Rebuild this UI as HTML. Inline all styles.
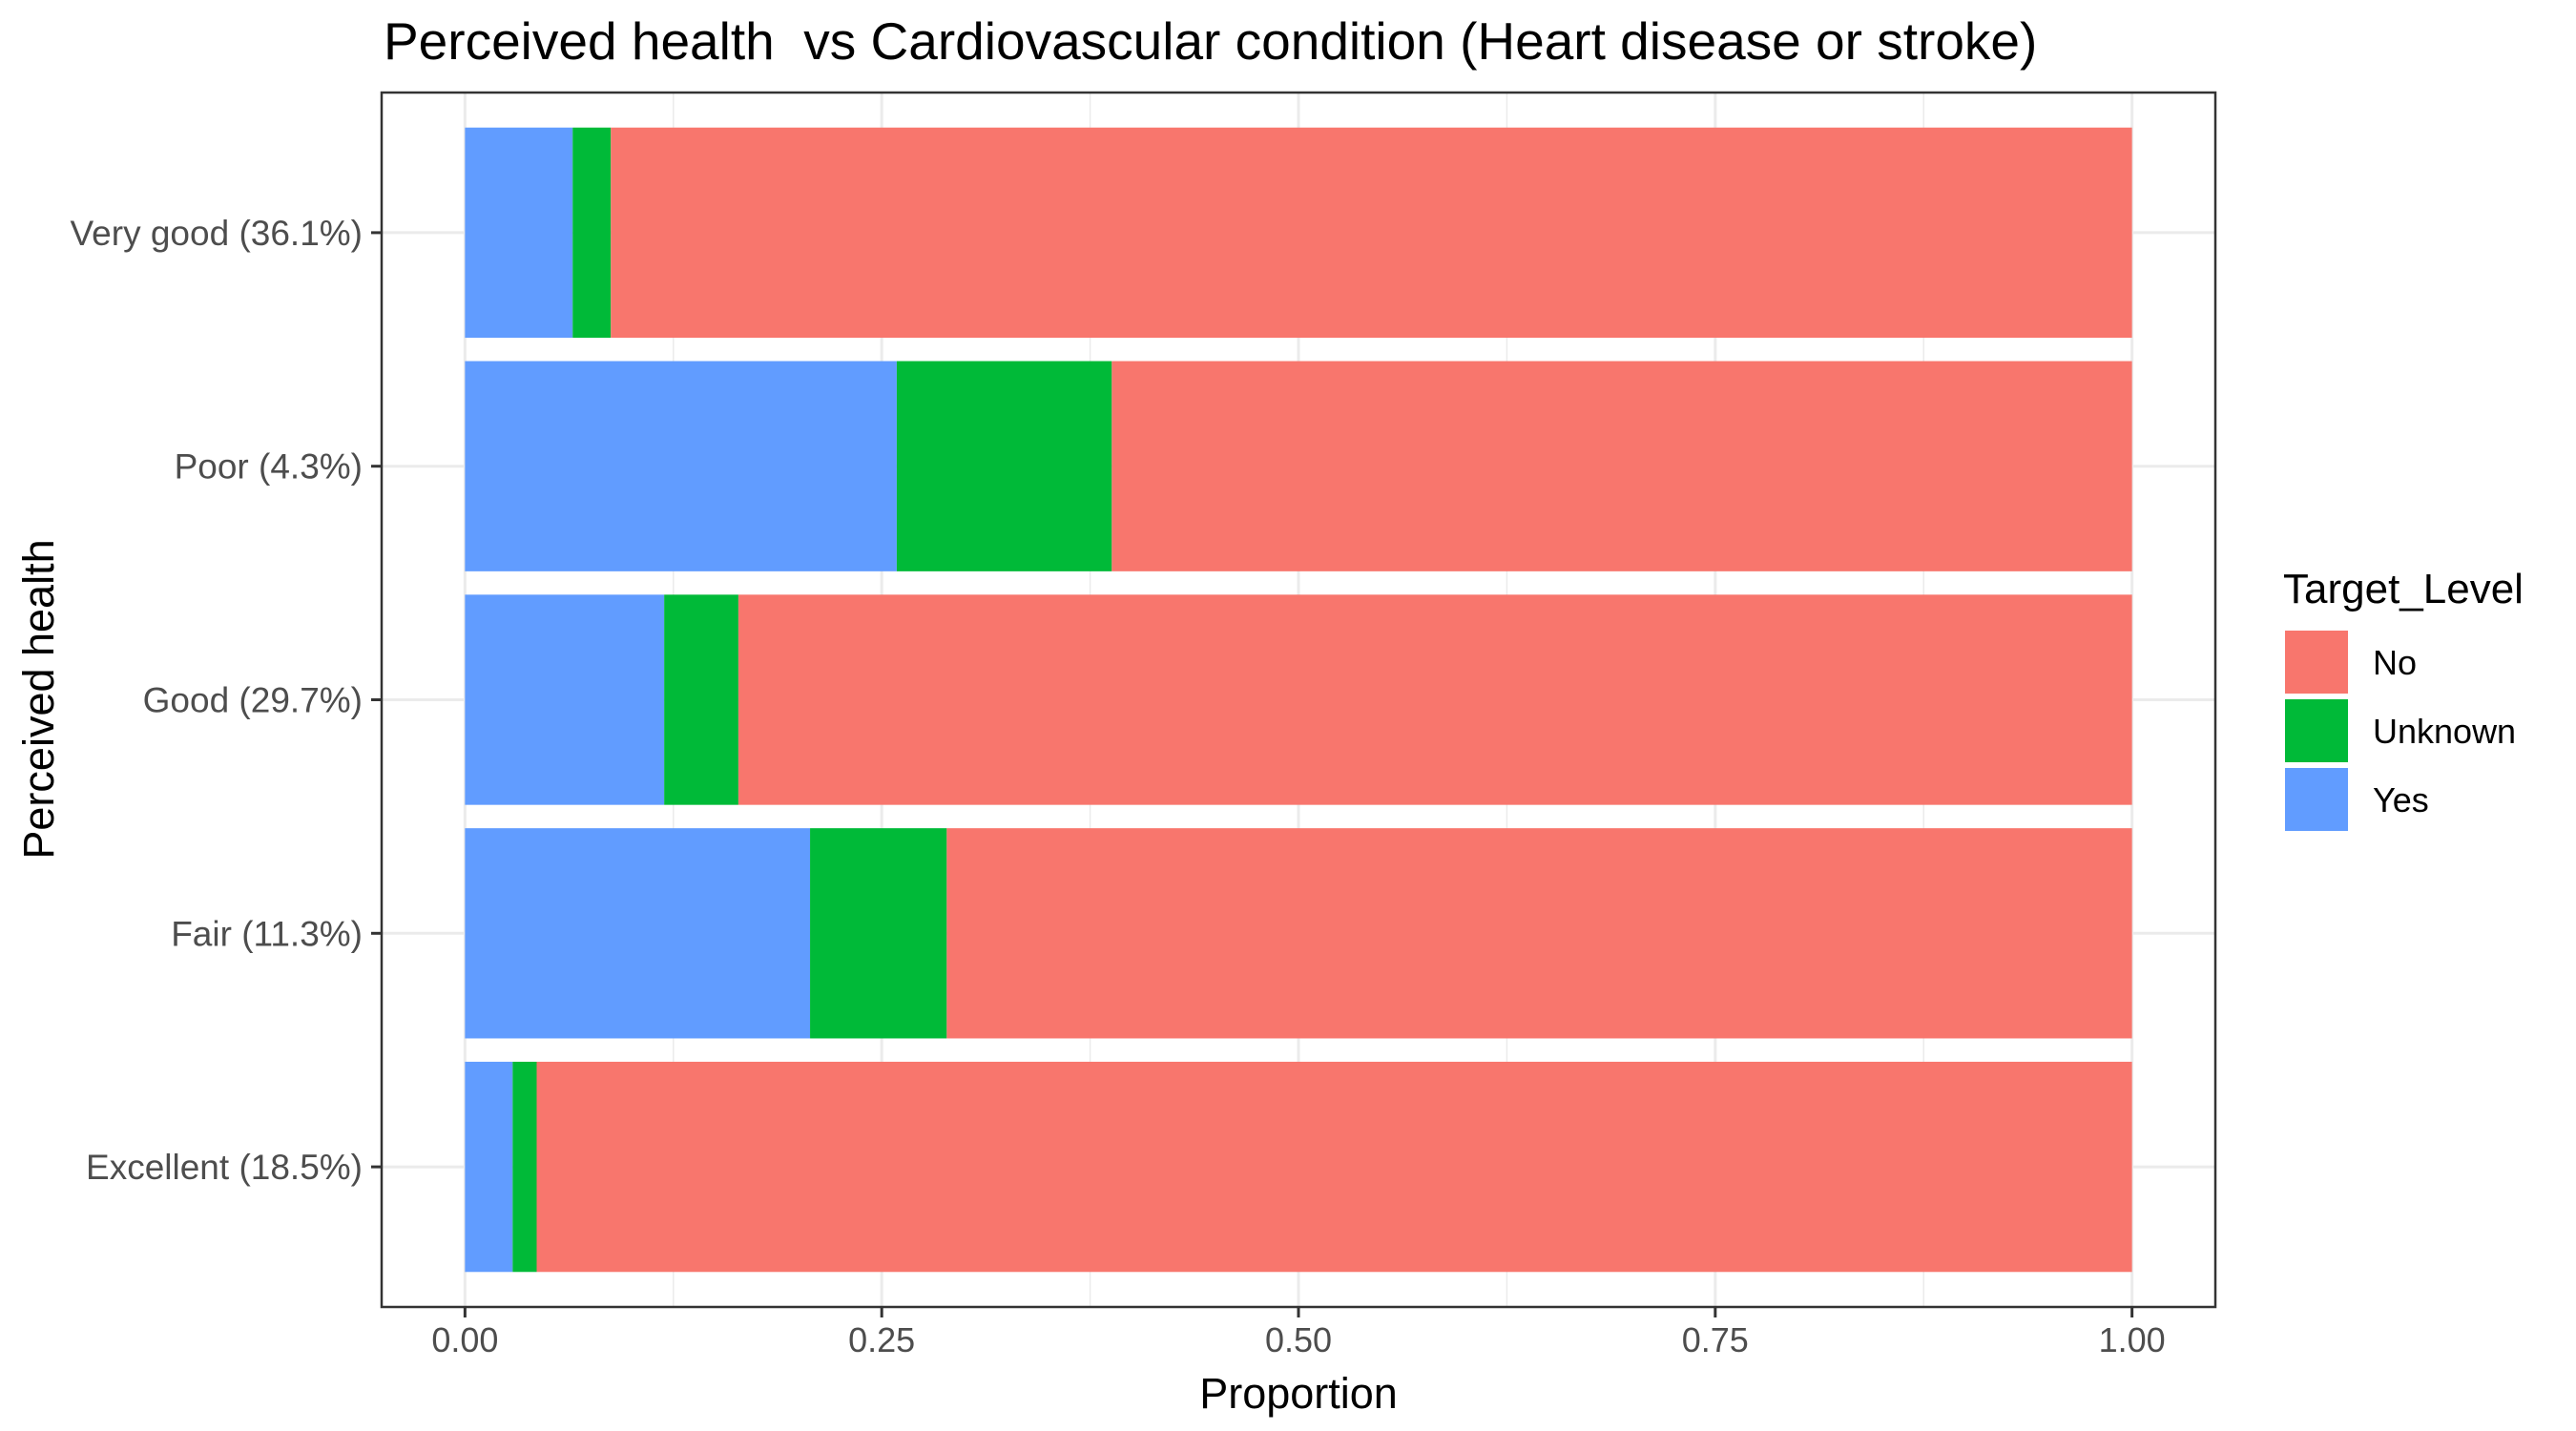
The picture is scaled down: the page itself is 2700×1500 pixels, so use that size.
<!DOCTYPE html>
<html><head><meta charset="utf-8"><style>
html,body{margin:0;padding:0;background:#fff;}
svg{display:block;font-family:"Liberation Sans",Arial,sans-serif;}
</style></head><body>
<svg id="chart" width="2700" height="1500" viewBox="0 0 2700 1500" xmlns="http://www.w3.org/2000/svg">
<rect width="2700" height="1500" fill="#fff"/>
<text x="402" y="62" font-size="55" fill="#000" style="white-space:pre" xml:space="preserve">Perceived health  vs Cardiovascular condition (Heart disease or stroke)</text>
<g id="grid"></g>
<g id="bars"></g>
<rect x="400" y="97" width="1922" height="1273" fill="none" stroke="#333" stroke-width="2.5"/>
<g id="axes"></g>
<text x="1361" y="1476" font-size="45" fill="#000" text-anchor="middle">Proportion</text>
<text transform="translate(56,733) rotate(-90)" font-size="45" fill="#000" text-anchor="middle">Perceived health</text>
<g>
<text x="2393" y="632" font-size="44" fill="#000">Target_Level</text>
<g><rect x="2395" y="661" width="66" height="66" fill="#F8766D"/><text x="2487" y="707" font-size="36" fill="#000">No</text></g>
<g><rect x="2395" y="733" width="66" height="66" fill="#00BA38"/><text x="2487" y="779" font-size="36" fill="#000">Unknown</text></g>
<g><rect x="2395" y="805" width="66" height="66" fill="#619CFF"/><text x="2487" y="851" font-size="36" fill="#000">Yes</text></g>
</g>
</svg>
<script>
const categories = ["Excellent (18.5%)", "Fair (11.3%)", "Good (29.7%)", "Poor (4.3%)", "Very good (36.1%)"];
const yesValues = [0.0286, 0.207, 0.1195, 0.259, 0.0646];
const unknownValues = [0.0144, 0.082, 0.0445, 0.129, 0.0229];
const xTicks = [0, 0.25, 0.5, 0.75, 1];
const xTickLabels = ["0.00", "0.25", "0.50", "0.75", "1.00"];

const NS = "http://www.w3.org/2000/svg";
const PL = 400, PR = 2322, PT = 97, PB = 1370;
function xScale(v){ return PL + (v + 0.05) / 1.1 * (PR - PL); }
function yScale(i){ return PB - (i + 1 - 0.4) / 5.2 * (PB - PT); }
const bandPx = (PB - PT) / 5.2;
function mk(tag, attrs, parent){ const e = document.createElementNS(NS, tag); for (const k in attrs) e.setAttribute(k, attrs[k]); parent.appendChild(e); return e; }

const grid = document.getElementById('grid');
const bars = document.getElementById('bars');
const axes = document.getElementById('axes');
mk('rect', {x: PL, y: PT, width: PR-PL, height: PB-PT, fill: '#fff'}, grid);
for (let k = 0; k < xTicks.length - 1; k++) {
  const m = (xTicks[k] + xTicks[k+1]) / 2;
  const l = mk('line', {x1: xScale(m), x2: xScale(m), y1: PT, y2: PB, stroke: '#ebebeb', 'stroke-width': 1.5}, grid);
  
  
}
xTicks.forEach((t, k) => {
  const l = mk('line', {x1: xScale(t), x2: xScale(t), y1: PT, y2: PB, stroke: '#ebebeb', 'stroke-width': 3}, grid);
  
  
  const tk = mk('line', {x1: xScale(t), x2: xScale(t), y1: PB, y2: PB + 11, stroke: '#333', 'stroke-width': 3}, axes);
  
  
  const tx = mk('text', {x: xScale(t), y: PB + 47, 'font-size': 36, fill: '#4d4d4d', 'text-anchor': 'middle'}, axes);
  tx.textContent = xTickLabels[k];
  
  
});
categories.forEach((c, i) => {
  const y = yScale(i);
  const l = mk('line', {x1: PL, x2: PR, y1: y, y2: y, stroke: '#ebebeb', 'stroke-width': 3}, grid);
  
  
  const tk = mk('line', {x1: PL - 11, x2: PL, y1: y, y2: y, stroke: '#333', 'stroke-width': 3}, axes);
  
  
  const tx = mk('text', {x: PL - 20, y: y + 13, 'font-size': 37, fill: '#4d4d4d', 'text-anchor': 'end'}, axes);
  tx.textContent = c;
  
  

  const top = y - bandPx * 0.45, h = bandPx * 0.9;
  const y1 = yesValues[i], u1 = y1 + unknownValues[i];
  const rb = mk('rect', {x: xScale(0), y: top, width: xScale(y1) - xScale(0), height: h, fill: '#619CFF'}, bars);
  
  
  const rg = mk('rect', {x: xScale(y1), y: top, width: xScale(u1) - xScale(y1), height: h, fill: '#00BA38'}, bars);
  
  
  const rr = mk('rect', {x: xScale(u1), y: top, width: xScale(1) - xScale(u1), height: h, fill: '#F8766D'}, bars);
  
  
});
</script>
</body></html>
